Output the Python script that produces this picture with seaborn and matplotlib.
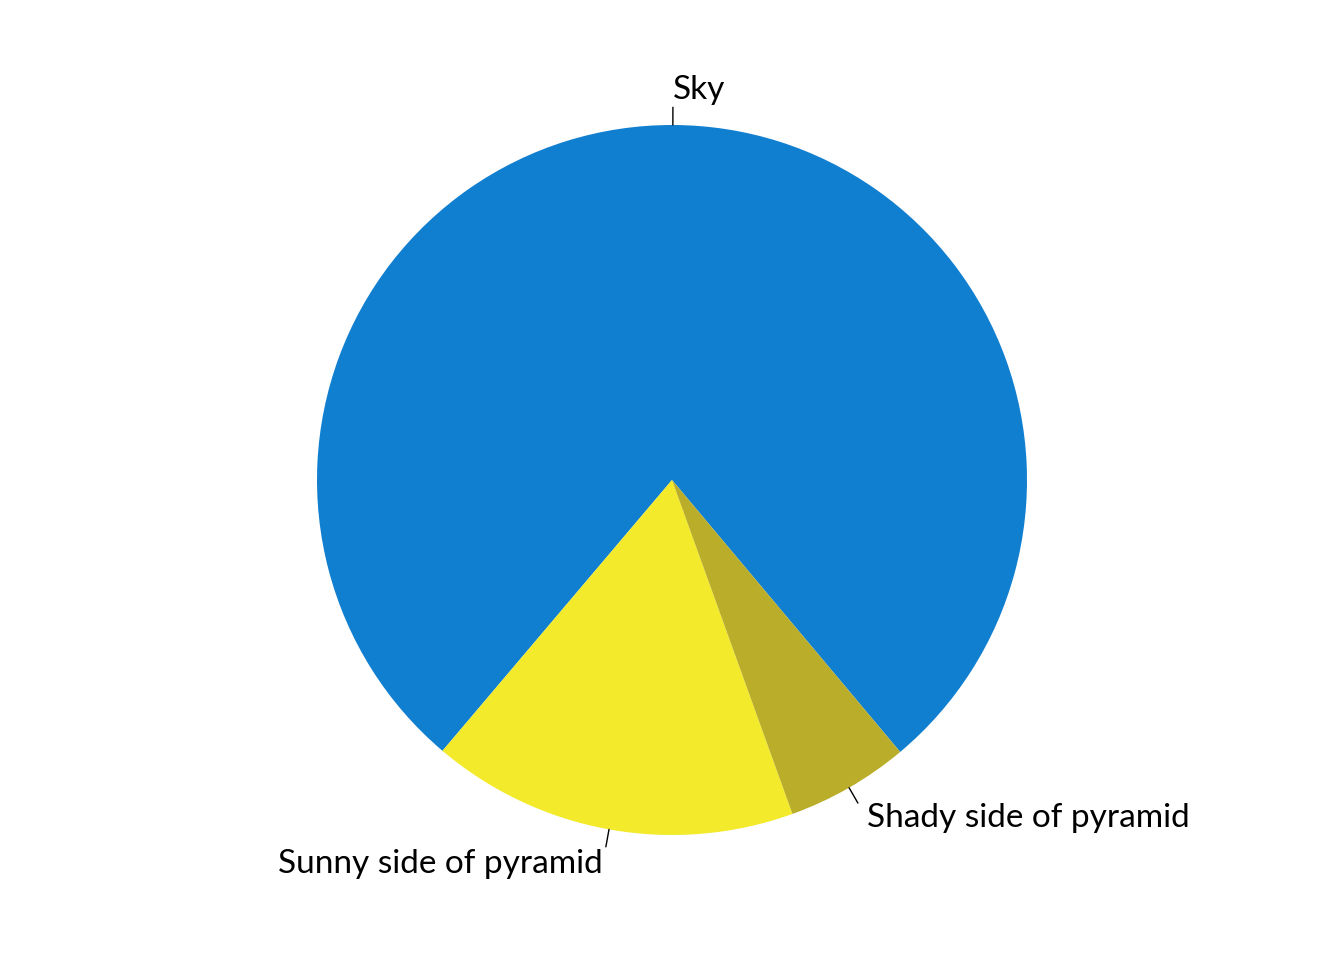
import numpy as np
import matplotlib
matplotlib.use('Agg')
import matplotlib.pyplot as plt
import seaborn as sns

# Datos del grafico
categorias = ['Sky', 'Sunny side of pyramid', 'Shady side of pyramid']
valores = [0.777, 0.167, 0.056]
colores = ['#117fcf', '#f3ea2c', '#b9ad29']

sns.set_theme(style='white')
plt.rcParams['font.family'] = ['Lato', 'DejaVu Sans']

fig = plt.figure(figsize=(13.44, 9.6), dpi=100)
ax = fig.add_axes([0, 0, 1, 1])

# empieza a -50 grados, antihorario como pie() de R
inicio = -50
ax.pie(valores, colors=colores, startangle=inicio, counterclock=True,
       radius=1, wedgeprops={'linewidth': 0})

# etiquetas con lineas cortas (estilo R)
total = sum(valores)
acum = inicio
for cat, v in zip(categorias, valores):
    ang = np.deg2rad(acum + 360 * v / total / 2)
    acum += 360 * v / total
    cx, cy = np.cos(ang), np.sin(ang)
    ax.plot([cx, 1.05 * cx], [cy, 1.05 * cy], color='black', lw=1)
    ax.text(1.1 * cx, 1.1 * cy, cat, ha='left' if cx >= 0 else 'right',
            va='center', fontsize=24, color='black')

ax.set_xlim(-672 / 355, 672 / 355)
ax.set_ylim(-480 / 355, 480 / 355)
ax.set_aspect('equal')
ax.axis('off')

plt.savefig('out.png', dpi=100)
